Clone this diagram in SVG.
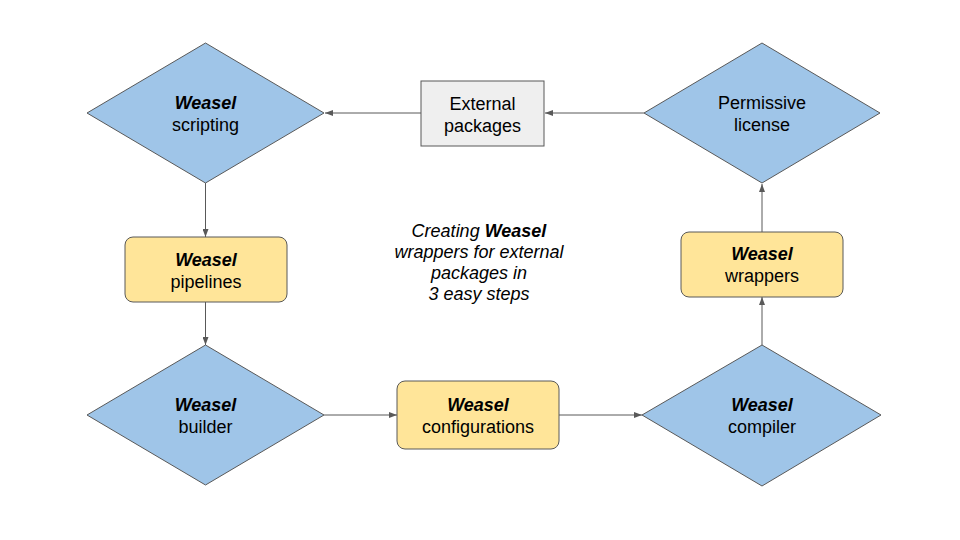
<svg xmlns="http://www.w3.org/2000/svg" width="960" height="540" viewBox="0 0 960 540">
<style>
.dia{fill:#9fc5e8;stroke:#595959;stroke-width:1}
.yel{fill:#ffe599;stroke:#595959;stroke-width:1}
.gry{fill:#efefef;stroke:#595959;stroke-width:1}
text{font-family:"Liberation Sans",Arial,sans-serif;font-size:18px;fill:#000;text-anchor:middle}
.b{font-weight:bold;font-style:italic}
.it{font-style:italic}
.conn line{stroke:#595959;stroke-width:1;fill:none}
</style>
<defs>
<marker id="ah" viewBox="0 0 8 6" refX="8" refY="3" markerWidth="8" markerHeight="6" markerUnits="userSpaceOnUse" orient="auto">
<path d="M0,0 L8,3 L0,6 Z" fill="#595959"/>
</marker>
</defs>
<rect width="960" height="540" fill="#fff"/>
<g class="conn">
<line x1="421" y1="113" x2="325" y2="113" marker-end="url(#ah)"/>
<line x1="644" y1="113" x2="545" y2="113" marker-end="url(#ah)"/>
<line x1="205.5" y1="183" x2="205.5" y2="237" marker-end="url(#ah)"/>
<line x1="205.5" y1="302" x2="205.5" y2="345" marker-end="url(#ah)"/>
<line x1="324" y1="415" x2="397" y2="415" marker-end="url(#ah)"/>
<line x1="559" y1="415" x2="642" y2="415" marker-end="url(#ah)"/>
<line x1="762" y1="345" x2="762" y2="297" marker-end="url(#ah)"/>
<line x1="762" y1="232" x2="762" y2="184" marker-end="url(#ah)"/>
</g>
<g id="scripting">
<polygon class="dia" points="205.5,43 324,113 205.5,183 87,113"/>
<text x="205.5" y="109"><tspan class="b">Weasel</tspan></text>
<text x="205.5" y="131">scripting</text>
</g>
<g id="external">
<rect class="gry" x="421" y="81" width="123" height="65"/>
<text x="482.5" y="110">External</text>
<text x="482.5" y="132">packages</text>
</g>
<g id="permissive">
<polygon class="dia" points="762,43 880,113 762,183 644,113"/>
<text x="762" y="109">Permissive</text>
<text x="762" y="131">license</text>
</g>
<g id="pipelines">
<rect class="yel" x="125" y="237" width="162" height="65" rx="8"/>
<text x="206" y="266" class="b">Weasel</text>
<text x="206" y="288">pipelines</text>
</g>
<g id="builder">
<polygon class="dia" points="205.5,345 324,415 205.5,485 87,415"/>
<text x="205.5" y="411" class="b">Weasel</text>
<text x="205.5" y="433">builder</text>
</g>
<g id="configurations">
<rect class="yel" x="397" y="381" width="162" height="68" rx="8"/>
<text x="478" y="411" class="b">Weasel</text>
<text x="478" y="433">configurations</text>
</g>
<g id="compiler">
<polygon class="dia" points="762,345 881,415 762,486 642,415"/>
<text x="762" y="411" class="b">Weasel</text>
<text x="762" y="433">compiler</text>
</g>
<g id="wrappers">
<rect class="yel" x="681" y="232" width="162" height="65" rx="8"/>
<text x="762" y="260" class="b">Weasel</text>
<text x="762" y="282">wrappers</text>
</g>
<g id="caption">
<text x="479" y="237" class="it">Creating <tspan class="b">Weasel</tspan></text>
<text x="479" y="258" class="it">wrappers for external</text>
<text x="479" y="279" class="it">packages in</text>
<text x="479" y="300" class="it">3 easy steps</text>
</g>
</svg>
